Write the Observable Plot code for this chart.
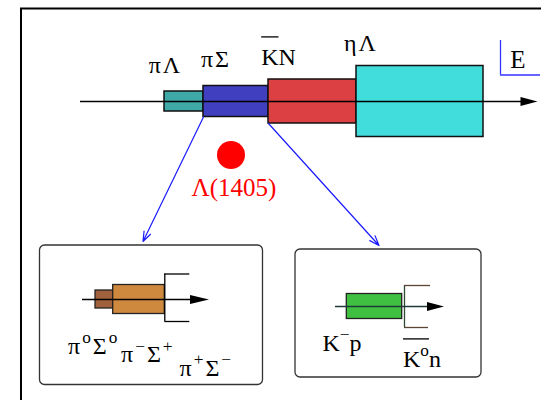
<!DOCTYPE html>
<html><head><meta charset="utf-8">
<script src="https://cdn.jsdelivr.net/npm/d3@7"></script>
<script src="https://cdn.jsdelivr.net/npm/@observablehq/plot@0.6"></script>
<style>body{margin:0;background:#fff}svg{display:block}</style>
</head><body><div id="chart"></div>
<script>
// ---- Main energy axis: coupled channels (diagram units) ----
const axisY = 101;
const axisStart = 80, axisEnd = 537;
const channelNames = ["πΛ", "πΣ", "\\bar{K}N", "ηΛ"];
const channelFrom = [164, 203, 268, 356];
const channelTo = [203, 268, 356, 483];
const channelHalf = [10, 15.5, 22, 35.5];
const channelColors = ["#3fa9a8", "#3f3fc0", "#dd4042", "#41dddd"];
const channelLabelX = [165, 215.5, 278, 360.5];
const channelLabelY = [72, 66, 64, 50];

// ---- Λ(1405) resonance ----
const resonanceName = ["Λ(1405)"];
const resonanceX = [230.5];
const resonanceY = [154.5];

// ---- decay arrows (from πΣ and K̄N thresholds to the detail boxes) ----
const arrowFromChannel = [1, 2];
const arrowTipX = [142.5, 378.5];
const arrowTipY = [241, 245];

// ---- detail boxes ----
const boxX1 = [39.5, 295];
const boxX2 = [262.5, 481];
const boxY1 = [245, 249];
const boxY2 = [384.5, 377];

// left box: πΣ charge channels
const subAxisY = [299, 306];
const subAxisStart = [82, 335];
const subAxisEnd = [208.5, 443.5];
const piSigmaFrom = [95, 112.7];
const piSigmaTo = [112.7, 164.3];
const piSigmaHalf = [9, 14.5];
const piSigmaColors = ["#a0613c", "#cf893f"];
const piSigmaLabels = ["π^{o}Σ^{o}", "π^{−}Σ^{+}", "π^{+}Σ^{−}"];
const piSigmaLabelX = [67.5, 120.5, 179];
const piSigmaLabelY = [353, 361.5, 375];

// right box: K̄N charge channels
const kbarNFrom = [346.3];
const kbarNTo = [401.7];
const kbarNHalf = [12.5];
const kbarNColors = ["#40c040"];
const kbarNLabels = ["K^{−}p", "\\bar{K^{o}}n"];
const kbarNLabelX = [322, 402.5];
const kbarNLabelY = [350, 366];

// thresholds (brackets)
const bracketX = [164.3, 404];
const bracketTop = [273.5, 285];
const bracketBottom = [321, 327];
const bracketArm = [25, 26];

// ---- build tables ----
const channels = channelNames.map((n, i) => ({
  name: n, x1: channelFrom[i], x2: channelTo[i],
  y1: axisY - channelHalf[i], y2: axisY + channelHalf[i],
  color: channelColors[i], lx: channelLabelX[i], ly: channelLabelY[i]
}));
const subBars = [
  ...piSigmaFrom.map((f, i) => ({x1: f, x2: piSigmaTo[i], y1: subAxisY[0] - piSigmaHalf[i], y2: subAxisY[0] + piSigmaHalf[i], color: piSigmaColors[i]})),
  ...kbarNFrom.map((f, i) => ({x1: f, x2: kbarNTo[i], y1: subAxisY[1] - kbarNHalf[i], y2: subAxisY[1] + kbarNHalf[i], color: kbarNColors[i]}))
];
const boxes = boxX1.map((x, i) => ({x1: x, x2: boxX2[i], y1: boxY1[i], y2: boxY2[i]}));
const arrows = arrowFromChannel.map((c, i) => ({
  x1: channelFrom[c], y1: axisY + channelHalf[c], x2: arrowTipX[i], y2: arrowTipY[i]
}));
const axes = [
  {x1: axisStart, x2: axisEnd, y: axisY, color: "#000", head: 17},
  {x1: subAxisStart[0], x2: subAxisEnd[0], y: subAxisY[0], color: "#000", head: 19},
  {x1: subAxisStart[1], x2: subAxisEnd[1], y: subAxisY[1], color: "#1f3a3a", head: 17}
];
const bracketVert = bracketX.map((x, i) => ({x, y1: bracketTop[i], y2: bracketBottom[i], color: i ? "#2f4a2f" : "#000"}));
const bracketArms = bracketX.flatMap((x, i) => [
  {x1: x, x2: x + bracketArm[i], y: bracketTop[i], color: i ? "#5a4535" : "#000"},
  {x1: x, x2: x + bracketArm[i] - (i ? 2 : 0), y: bracketBottom[i], color: i ? "#5a4535" : "#000"}
]);
const labels = [
  ...channels.map(c => ({text: c.name, x: c.lx, y: c.ly, anchor: "middle", color: "#000"})),
  ...piSigmaLabels.map((t, i) => ({text: t, x: piSigmaLabelX[i], y: piSigmaLabelY[i], anchor: "start", color: "#000"})),
  ...kbarNLabels.map((t, i) => ({text: t, x: kbarNLabelX[i], y: kbarNLabelY[i], anchor: "start", color: "#000"}))
];

// filled, slender arrowhead symbol pointing right (tip at the point)
function headSymbol(len, half) {
  return {draw(ctx) { ctx.moveTo(0, 0); ctx.lineTo(-len, -half); ctx.lineTo(-len, half); ctx.closePath(); }};
}

const serif = "Liberation Serif, Times New Roman, serif";
const chart = Plot.plot({
  width: 541, height: 400, margin: 0,
  x: {domain: [0, 541], range: [0, 541], axis: null},
  y: {domain: [0, 400], range: [0, 400], axis: null},
  style: {background: "#fff"},
  marks: [
    // outer frame
    Plot.rect([{x1: 21, x2: 560, y1: 8.5, y2: 420}], {x1: "x1", x2: "x2", y1: "y1", y2: "y2", fill: "none", stroke: "#000", strokeWidth: 2}),
    // channel bars
    Plot.rect(channels, {x1: "x1", x2: "x2", y1: "y1", y2: "y2", fill: "color", stroke: "#111", strokeWidth: 1.5}),
    // E axis marker
    Plot.ruleX([500], {y1: 40, y2: 74.5, stroke: "#3333ff", strokeWidth: 1.3}),
    Plot.ruleY([74.5], {x1: 500, x2: 540, stroke: "#3333ff", strokeWidth: 1.3}),
    Plot.text(["E"], {x: 517.5, y: 67.5, fontFamily: serif, fontSize: 25, lineAnchor: "bottom", textAnchor: "middle"}),
    // detail boxes
    Plot.rect(boxes, {x1: "x1", x2: "x2", y1: "y1", y2: "y2", fill: "#fff", stroke: "#333", strokeWidth: 1.3, rx: 5}),
    Plot.rect(subBars, {x1: "x1", x2: "x2", y1: "y1", y2: "y2", fill: "color", stroke: "#222", strokeWidth: 1.3}),
    // brackets (thresholds)
    Plot.ruleX(bracketVert, {x: "x", y1: "y1", y2: "y2", stroke: "color", strokeWidth: 1.3}),
    Plot.ruleY(bracketArms, {y: "y", x1: "x1", x2: "x2", stroke: "color", strokeWidth: 1.3}),
    // energy axes with filled arrowheads
    Plot.ruleY(axes, {y: "y", x1: "x1", x2: d => d.x2 - d.head + 1, stroke: "color", strokeWidth: 1.3}),
    ...axes.map(a => Plot.dot([a], {x: "x2", y: "y", symbol: headSymbol(a.head, 4.4), fill: "#000", stroke: "none"})),
    // decay arrows
    Plot.arrow(arrows, {x1: "x1", y1: "y1", x2: "x2", y2: "y2", stroke: "#1a1aff", strokeWidth: 1.2, headLength: 13, headAngle: 40}),
    // resonance
    Plot.dot(resonanceName, {x: resonanceX, y: resonanceY, r: 14, fill: "#ff0000"}),
    Plot.text(resonanceName, {x: [233.5], y: [195], fill: "#ff0000", fontFamily: serif, fontSize: 25, lineAnchor: "bottom", textAnchor: "middle"}),
    // labels
    Plot.text(labels.filter(d => d.anchor === "middle"), {x: "x", y: "y", text: "text", fontFamily: serif, fontSize: 24, lineAnchor: "bottom", textAnchor: "middle", fill: "color"}),
    Plot.text(labels.filter(d => d.anchor === "start"), {x: "x", y: "y", text: "text", fontFamily: serif, fontSize: 24, lineAnchor: "bottom", textAnchor: "start", fill: "color"})
  ]
});
document.getElementById("chart").appendChild(chart);

// ---- rich text: ^{sup} and \bar{...}; wider spacing for Greek pairs ----
function matchBrace(s, open) { let d = 0; for (let k = open; k < s.length; k++) { if (s[k] === "{") d++; else if (s[k] === "}") { d--; if (d === 0) return k; } } return s.length; }
function tokenize(s, bar = false, out = []) {
  let i = 0, buf = "";
  const flush = () => { if (buf) { out.push({t: buf, sup: false, bar}); buf = ""; } };
  while (i < s.length) {
    if (s.startsWith("\\bar{", i)) { flush(); const j = matchBrace(s, i + 4); tokenize(s.slice(i + 5, j), true, out); i = j + 1; }
    else if (s.startsWith("^{", i)) { flush(); const j = matchBrace(s, i + 1); out.push({t: s.slice(i + 2, j), sup: true, bar}); i = j + 1; }
    else { buf += s[i]; i++; }
  }
  flush(); return out;
}
const NS = "http://www.w3.org/2000/svg";
chart.querySelectorAll("text").forEach(el => {
  const src = el.textContent;
  if (/^[πηΣΛ]/.test(src) && !/\(/.test(src)) el.setAttribute("letter-spacing", 2);
  if (!/\^\{|\\bar\{/.test(src)) return;
  const fs = parseFloat(getComputedStyle(el).fontSize);
  const toks = tokenize(src);
  el.textContent = "";
  let shift = 0, idx = 0; const barIdx = [];
  toks.forEach(tok => {
    const ts = document.createElementNS(NS, "tspan");
    const target = tok.sup ? -0.42 * fs : 0;
    if (target !== shift) ts.setAttribute("dy", target - shift);
    shift = target;
    if (tok.sup) ts.setAttribute("font-size", (0.72 * fs) + "px");
    ts.textContent = tok.t;
    el.appendChild(ts);
    for (let k = 0; k < tok.t.length; k++) { if (tok.bar) barIdx.push(idx); idx++; }
  });
  if (barIdx.length) {
    let minX = Infinity, maxX = -Infinity;
    barIdx.forEach(i => { const r = el.getExtentOfChar(i); minX = Math.min(minX, r.x); maxX = Math.max(maxX, r.x + r.width); });
    const base = el.getStartPositionOfChar(barIdx[0]).y;
    const ln = document.createElementNS(NS, "line");
    ln.setAttribute("x1", minX); ln.setAttribute("x2", maxX);
    ln.setAttribute("y1", base - 1.15 * fs); ln.setAttribute("y2", base - 1.15 * fs);
    ln.setAttribute("stroke", "#000"); ln.setAttribute("stroke-width", 1.3);
    if (el.getAttribute("transform")) ln.setAttribute("transform", el.getAttribute("transform"));
    el.parentNode.appendChild(ln);
  }
});
</script></body></html>
